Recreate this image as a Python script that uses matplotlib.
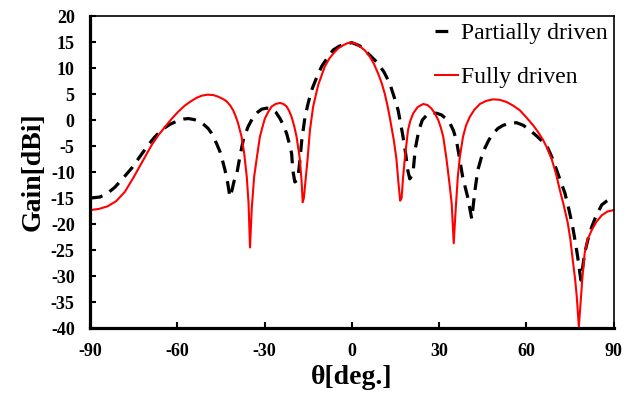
import matplotlib.pyplot as plt

# angoli e guadagni (Fully driven)
theta_full = [-90, -87, -84, -81, -78, -75, -72, -68.8, -66.5, -64.2, -62, -59.7, -57.4,
              -55.1, -53.3, -51.6, -49.5, -47.5, -45.9, -44.4, -43.0, -41.8, -40.8, -39.9,
              -39.1, -37.9, -37.0, -36.1, -35.5, -35.0, -34.4, -33.6, -32.7, -31.6, -30.7,
              -29.9, -28.7, -27.6, -26.2, -24.7, -23.5, -22.4, -21.5, -20.7, -19.8, -19.0,
              -17.9, -17.3, -16.9, -16.5, -16.0, -15.2, -14.4, -13.3, -11.6, -9.3, -7.8, -6.4,
              -4.7, -3.0, -1.5, 0, 1.3, 2.7, 4.5, 6.2, 7.6, 9.0, 10.2, 11.3, 12.2, 13.0, 14.4,
              15.3, 16.0, 16.6, 17.1, 17.6, 18.2, 19.3, 20.1, 21.1, 22.6, 24.5, 26.0, 27.4,
              28.6, 29.7, 30.6, 31.4, 32.5, 33.5, 34.3, 35.0, 35.7, 36.4, 37.1, 38.2, 39.2,
              40.5, 42.1, 44.0, 46.2, 48.5, 50.8, 53.1, 55.4, 57.7, 60.0, 62.3, 64.0, 65.7,
              67.2, 68.6, 70.1, 71.5, 72.9, 74.2, 75.1, 75.9, 76.7, 77.3, 78.0, 78.6, 79.2,
              80.0, 81.0, 82.4, 84.0, 85.9, 87.8, 90]
gain_full = [-17.3, -17.1, -16.6, -15.6, -13.8, -11.0, -8.0, -4.8, -2.9, -1.3, 0.2, 1.6, 2.8,
             3.7, 4.3, 4.7, 4.9, 4.8, 4.5, 4.1, 3.6, 2.8, 1.9, 0.7,
             -0.6, -3.2, -6.4, -11.0, -16.0, -24.5, -17.0, -11.0, -7.4, -3.2, -1.3,
             0.3, 1.6, 2.6, 3.1, 3.3, 3.1, 2.6, 1.7, 0.6, -1.2, -3.2,
             -7.4, -11.5, -15.8, -15.0, -12.0, -7.4, -1.9, 2.6, 6.7, 10.3, 11.8, 12.8,
             13.8, 14.4, 14.8, 14.9, 14.7, 14.2, 13.4, 12.2, 10.8, 9.0, 7.2, 5.1, 2.9, 0.6, -3.8,
             -7.4, -12.0, -15.5, -15.0, -11.0, -7.4, -1.9, -0.1, 1.3, 2.5, 3.1, 2.9, 2.2,
             1.2, 0.0, -1.5, -3.2, -7.4, -12.0, -16.0, -23.7, -17.0, -11.0, -7.1, -3.2, -1.1,
             0.6, 2.0, 3.1, 3.7, 4.0, 3.9, 3.5, 2.8, 1.9, 0.5, -1.0, -2.3, -3.8,
             -5.5, -7.4, -10.2, -13.5, -16.6, -19.8, -23.0, -26.9, -30.5, -34.0, -39.8, -35.0, -30.5,
             -25.6, -23.0, -21.2, -19.6, -18.3, -17.6, -17.3]

# Partially driven
theta_part = [-90, -86.6, -84, -81.4, -78.5, -75.6, -72.3, -70, -67.8, -65.4, -62.5, -59.7,
              -57.8, -56.2, -54.2, -52.2, -50.8, -49.4, -48.0, -46.5, -45.3, -44.4, -43.6,
              -42.7, -41.9, -41.2, -40.5, -39.5, -38.4, -37.2, -35.6, -33.9, -32.4, -31.0,
              -29.3, -27.6, -26.1, -24.7, -23.5, -22.4, -21.5, -20.7, -20.3, -19.6, -18.6,
              -17.9, -17.2, -16.1, -15.0, -13.8, -12.1, -10.4, -8.4, -6.4, -4.4, -2.4, 0,
              2.7, 5.6, 8.5, 11.0, 13.0, 14.5, 15.9, 17.4, 18.5, 19.2, 19.9, 21.0, 21.8, 23.0,
              24.2, 25.8, 27.4, 29.2, 30.8, 32.3, 33.7, 34.9, 35.9, 37.2, 38.1, 39.8, 41.2,
              42.3, 43.3, 44.5, 45.7, 47.1, 48.5, 50.2, 52.0, 54.3, 56.6, 58.9, 61.1, 63.4,
              65.7, 67.2, 68.8, 70.5, 72.0, 73.2, 74.6, 75.9, 76.8, 77.6, 78.7, 79.4, 80.0,
              81.2, 82.4, 84.0, 85.9, 87.5, 90]
gain_part = [-15.0, -14.8, -14.1, -12.9, -11.1, -9.2, -6.6, -4.8, -3.3, -1.9, -0.8, -0.1,
             0.2, 0.3, 0.1, -0.3, -0.9, -1.6, -2.7, -4.5, -6.1, -7.9, -9.6,
             -12.0, -14.8, -13.5, -11.8, -10.2, -6.8, -3.5, -1.2, 0.6, 1.5, 2.1,
             2.3, 2.2, 1.5, 0.3, -1.0, -2.6, -4.5, -6.4, -9.6, -11.9, -11.5,
             -8.0, -3.8, 0.6, 3.3, 5.8, 8.2, 10.3, 12.0, 13.5, 14.2, 14.6, 14.9,
             14.3, 12.8, 11.2, 9.3, 7.1, 4.5, 1.9, -2.6, -6.5, -9.6, -11.3, -10.2, -5.5, -2.0,
             0.0, 1.0, 1.4, 1.3, 1.0, 0.3, -0.6, -2.0, -3.8, -8.0, -11.0, -14.8, -19.0,
             -13.5, -9.6, -7.2, -5.4, -3.8, -2.6, -1.6, -1.0, -0.6, -0.5, -1.0, -1.9, -3.0,
             -4.2, -5.2, -7.2, -9.8, -12.2, -14.0, -17.2, -20.6, -23.5, -26.3, -30.8, -28.0, -25.6,
             -22.8, -20.6, -18.3, -16.3, -15.6, -14.8]

x_ticks = [-90, -60, -30, 0, 30, 60, 90]
y_ticks = list(range(-40, 21, 5))

plt.rcParams["font.family"] = ["Liberation Serif", "DejaVu Serif"]
plt.rcParams["axes.unicode_minus"] = False

fig = plt.figure(figsize=(6.38, 3.94), dpi=100)
ax = fig.add_axes([0.141, 0.1675, 0.821, 0.7915])

ax.plot(theta_part, gain_part, color="black", lw=2.3, linestyle=(0, (4, 2.6)),
        dash_joinstyle="round", label="Partially driven")
ax.plot(theta_full, gain_full, color="red", lw=1.5, solid_joinstyle="round",
        label="Fully driven")

ax.set_xlim(-90, 90)
ax.set_ylim(-40, 20)
ax.set_xticks(x_ticks)
ax.set_yticks(y_ticks)

# assi: sinistro e inferiore spessi
ax.spines["left"].set_linewidth(2.3)
ax.spines["bottom"].set_linewidth(2.3)
ax.spines["top"].set_linewidth(1.2)
ax.spines["right"].set_linewidth(1.2)

ax.tick_params(direction="in", length=4, width=1.5, pad=11, labelsize=13)
for lab in ax.get_xticklabels() + ax.get_yticklabels():
    lab.set_fontweight("bold")

ax.set_xlabel("θ[deg.]", fontsize=20, fontweight="bold", labelpad=3.5)
ax.set_ylabel("Gain[dBi]", fontsize=20, fontweight="bold", labelpad=4)

leg = ax.legend(loc="upper left", bbox_to_anchor=(0.658, 0.98), frameon=False, fontsize=17,
                borderpad=0, borderaxespad=0, handlelength=1.0, handletextpad=0.1,
                labelspacing=0.95)
# nella legenda si vede un solo trattino
leg.get_lines()[0].set_linestyle((0, (4, 6)))

fig.savefig("out.png", dpi=100)
